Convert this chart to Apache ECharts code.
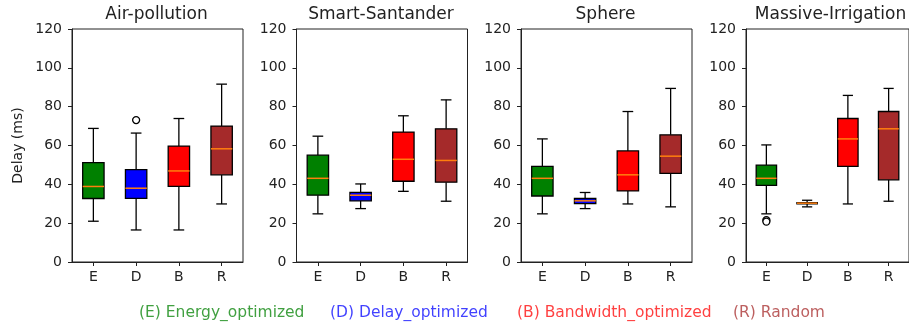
<!DOCTYPE html>
<html>
<head>
<meta charset="utf-8">
<script src="https://cdn.jsdelivr.net/npm/echarts@6/dist/echarts.min.js"></script>
<style>
html,body{margin:0;padding:0;background:#fff;}
#chart{width:909px;height:329px;}
</style>
</head>
<body>
<div id="chart"></div>
<script>
// ---- Data ----
const categories = ['E', 'D', 'B', 'R'];
const panelTitles = ['Air-pollution', 'Smart-Santander', 'Sphere', 'Massive-Irrigation'];
const yTicks = [0, 20, 40, 60, 80, 100, 120];
// each box: [lowerWhisker, Q1, median, Q3, upperWhisker]
const airPollution = [
  [21.0, 32.7, 38.9, 51.2, 68.8],
  [16.5, 32.8, 38.0, 47.6, 66.4],
  [16.5, 38.9, 46.9, 59.7, 73.9],
  [29.9, 44.9, 58.3, 70.0, 91.6]
];
const smartSantander = [
  [24.8, 34.4, 43.1, 55.0, 64.8],
  [27.5, 31.5, 34.4, 35.9, 40.2],
  [36.4, 41.6, 52.9, 66.9, 75.3],
  [31.3, 41.1, 52.3, 68.6, 83.5]
];
const sphere = [
  [24.8, 34.0, 43.1, 49.3, 63.4],
  [27.5, 30.1, 31.5, 32.7, 35.8],
  [29.9, 36.6, 44.9, 57.2, 77.5],
  [28.4, 45.6, 54.5, 65.5, 89.4]
];
const massiveIrrigation = [
  [24.8, 39.5, 43.1, 49.9, 60.3],
  [28.4, 29.9, 30.3, 30.6, 31.8],
  [29.9, 49.2, 63.4, 73.9, 85.8],
  [31.3, 42.3, 68.6, 77.5, 89.4]
];
// outliers: [category, value]
const airPollutionOutliers = [['D', 73.1]];
const smartSantanderOutliers = [];
const sphereOutliers = [];
const massiveIrrigationOutliers = [['E', 21.6], ['E', 20.8]];
const legendLabels = ['(E) Energy_optimized', '(D) Delay_optimized', '(B) Bandwidth_optimized', '(R) Random'];

// ---- Styles ----
const boxColors = ['#008000', '#0000ff', '#ff0000', '#a52a2a'];
const legendColors = ['rgba(0,128,0,0.75)', 'rgba(0,0,255,0.75)', 'rgba(255,0,0,0.75)', 'rgba(165,42,42,0.75)'];
const FONT = 'DejaVu Sans';
const panels = [airPollution, smartSantander, sphere, massiveIrrigation];
const outliers = [airPollutionOutliers, smartSantanderOutliers, sphereOutliers, massiveIrrigationOutliers];
const gridLefts = [72, 296.5, 521, 746];
const gridTop = 29, gridW = 171, gridH = 233;

function renderBox(params, api) {
  const idx = api.value(0);
  const lo = api.value(1), q1 = api.value(2), med = api.value(3), q3 = api.value(4), hi = api.value(5);
  const band = api.size([1, 0])[0];
  const bw = band * 0.5, cw = band * 0.25;
  const pLo = api.coord([idx, lo]), pQ1 = api.coord([idx, q1]), pMed = api.coord([idx, med]);
  const pQ3 = api.coord([idx, q3]), pHi = api.coord([idx, hi]);
  const x = pLo[0];
  const ls = { stroke: '#000', lineWidth: 1.3 };
  return {
    type: 'group',
    children: [
      { type: 'line', shape: { x1: x, y1: pLo[1], x2: x, y2: pQ1[1] }, style: ls },
      { type: 'line', shape: { x1: x, y1: pQ3[1], x2: x, y2: pHi[1] }, style: ls },
      { type: 'line', shape: { x1: x - cw / 2, y1: pLo[1], x2: x + cw / 2, y2: pLo[1] }, style: ls },
      { type: 'line', shape: { x1: x - cw / 2, y1: pHi[1], x2: x + cw / 2, y2: pHi[1] }, style: ls },
      { type: 'rect', shape: { x: x - bw / 2, y: pQ3[1], width: bw, height: pQ1[1] - pQ3[1] },
        style: { fill: boxColors[idx], stroke: '#000', lineWidth: 1.3 } },
      { type: 'line', shape: { x1: x - bw / 2, y1: pMed[1], x2: x + bw / 2, y2: pMed[1] },
        style: { stroke: '#ff7f0e', lineWidth: 1.5 } }
    ]
  };
}

const grid = [], xAxis = [], yAxis = [], series = [], title = [];
panels.forEach((stats, p) => {
  grid.push({ left: gridLefts[p], top: gridTop, width: gridW, height: gridH,
    show: true, borderColor: '#222', borderWidth: 1, backgroundColor: 'transparent', containLabel: false });
  xAxis.push({ type: 'category', gridIndex: p, data: categories, boundaryGap: true,
    axisLine: { show: true, lineStyle: { color: '#222', width: 1 } },
    axisTick: { show: true, alignWithLabel: true, length: 4, lineStyle: { color: '#222' } },
    axisLabel: { color: '#222', fontFamily: FONT, fontSize: 14, margin: 8 },
    splitLine: { show: false } });
  yAxis.push({ type: 'value', gridIndex: p, min: yTicks[0], max: yTicks[yTicks.length - 1], interval: 20,
    name: p === 0 ? 'Delay (ms)' : '', nameLocation: 'middle', nameGap: 47,
    nameTextStyle: { color: '#222', fontFamily: FONT, fontSize: 14 },
    axisLine: { show: true, lineStyle: { color: '#222', width: 1 } },
    axisTick: { show: true, length: 4, lineStyle: { color: '#222' } },
    axisLabel: { color: '#222', fontFamily: FONT, fontSize: 14, margin: 10 },
    splitLine: { show: false } });
  series.push({ type: 'custom', xAxisIndex: p, yAxisIndex: p, renderItem: renderBox,
    encode: { x: 0, y: [1, 2, 3, 4, 5] }, z: 2,
    data: stats.map((s, i) => [i].concat(s)), silent: true, animation: false });
  series.push({ type: 'scatter', xAxisIndex: p, yAxisIndex: p, symbol: 'circle', symbolSize: 7, z: 5,
    itemStyle: { color: '#ffffff', borderColor: '#000000', borderWidth: 1.3, opacity: 1 },
    data: outliers[p].map(o => [categories.indexOf(o[0]), o[1]]), silent: true, animation: false });
  title.push({ text: panelTitles[p], left: gridLefts[p] + gridW / 2 - 1, top: 6, padding: 0, textAlign: 'center',
    textStyle: { color: '#222', fontFamily: FONT, fontSize: 17, fontWeight: 'normal' } });
});

const legendX = [139, 330, 517, 733];
const graphic = legendLabels.map((t, i) => ({
  type: 'text', left: legendX[i], top: 305,
  style: { text: t, fill: legendColors[i], font: '15.5px "' + FONT + '"' }
}));

const chart = echarts.init(document.getElementById('chart'), null, { renderer: 'canvas' });
chart.setOption({ animation: false, backgroundColor: '#fff', title, grid, xAxis, yAxis, series, graphic });
</script>
</body>
</html>
